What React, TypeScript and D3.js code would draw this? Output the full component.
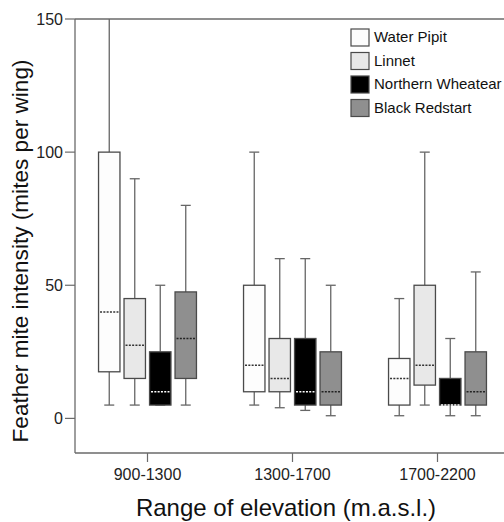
import * as d3 from 'd3';

// elevation ranges on the x axis
const categories = ['900-1300', '1300-1700', '1700-2200'];
const species = ['Water Pipit', 'Linnet', 'Northern Wheatear', 'Black Redstart'];
const fills = ['#fdfdfd', '#e8e8e8', '#000000', '#8f8f8f'];
const medianColors = ['#333', '#333', '#fff', '#222'];

// [whisker low, q1, median, q3, whisker high] per elevation range
const waterPipit = [
  [5, 17.5, 40, 100, 150],
  [5, 10, 20, 50, 100],
  [1, 5, 15, 22.5, 45],
];
const linnet = [
  [5, 15, 27.5, 45, 90],
  [4, 10, 15, 30, 60],
  [5, 12.5, 20, 50, 100],
];
const northernWheatear = [
  [5, 5, 10, 25, 50],
  [3, 5, 10, 30, 60],
  [1, 5, 5, 15, 30],
];
const blackRedstart = [
  [5, 15, 30, 47.5, 80],
  [1, 5, 10, 25, 50],
  [1, 5, 10, 25, 55],
];
const seriesStats = [waterPipit, linnet, northernWheatear, blackRedstart];
const yTicks = [0, 50, 100, 150];

const W = 504;
const H = 522;
const FONT = 'Liberation Sans, Arial, sans-serif';
const AXIS = '#6a6a6a';

export default function App() {
  const x = d3.scaleBand<string>().domain(categories).range([75, 510]);
  const inner = d3
    .scaleBand<string>()
    .domain(species)
    .range([-51, 51])
    .paddingInner(0.16)
    .paddingOuter(0.08);
  const y = d3.scaleLinear().domain([-13, 150]).range([453, 19]);
  const bw = inner.bandwidth();
  const cap = 10;

  return (
    <svg
      width={W}
      height={H}
      style={{ position: 'absolute', left: 0, top: 0, background: '#fff' }}
      fontFamily={FONT}
    >
      {/* frame */}
      <line x1={75} x2={W} y1={y(150)} y2={y(150)} stroke={AXIS} strokeWidth={1.3} />
      <line x1={75} x2={W} y1={453} y2={453} stroke={AXIS} strokeWidth={1.3} />
      <line x1={75} x2={75} y1={y(150)} y2={453} stroke={AXIS} strokeWidth={1.3} />

      {yTicks.map((t) => (
        <g key={t} transform={`translate(0,${y(t)})`}>
          <line x1={65} x2={75} stroke={AXIS} strokeWidth={1.2} />
          <text x={63} dy="0.36em" textAnchor="end" fontSize={16} fill="#222">
            {t}
          </text>
        </g>
      ))}

      {categories.map((c) => {
        const cx = x(c)! + x.bandwidth() / 2;
        return (
          <g key={c}>
            <line x1={cx} x2={cx} y1={453} y2={462} stroke={AXIS} strokeWidth={1.2} />
            <text x={cx} y={480} textAnchor="middle" fontSize={16} fill="#222">
              {c}
            </text>
          </g>
        );
      })}

      {/* boxes */}
      {categories.map((c, ci) => {
        const center = x(c)! + x.bandwidth() / 2;
        return species.map((s, si) => {
          const [lo, q1, med, q3, hi] = seriesStats[si][ci];
          const x0 = center + inner(s)!;
          const mx = x0 + bw / 2;
          return (
            <g key={c + s}>
              <line x1={mx} x2={mx} y1={y(hi)} y2={y(q3)} stroke="#666" strokeWidth={1.3} />
              <line x1={mx} x2={mx} y1={y(q1)} y2={y(lo)} stroke="#666" strokeWidth={1.3} />
              {hi < 150 && (
                <line x1={mx - cap / 2} x2={mx + cap / 2} y1={y(hi)} y2={y(hi)} stroke="#666" strokeWidth={1.3} />
              )}
              <line x1={mx - cap / 2} x2={mx + cap / 2} y1={y(lo)} y2={y(lo)} stroke="#666" strokeWidth={1.3} />
              <rect
                x={x0}
                y={y(q3)}
                width={bw}
                height={y(q1) - y(q3)}
                fill={fills[si]}
                stroke="#4a4a4a"
                strokeWidth={1.3}
              />
              <line
                x1={x0 + 1.5}
                x2={x0 + bw - 1.5}
                y1={y(med)}
                y2={y(med)}
                stroke={medianColors[si]}
                strokeWidth={1.5}
                strokeDasharray="2,1.3"
              />
            </g>
          );
        });
      })}

      {/* legend */}
      {species.map((s, i) => (
        <g key={s} transform={`translate(351,${29 + i * 23.5})`}>
          <rect width={18} height={17} fill={fills[i]} stroke="#4a4a4a" strokeWidth={1.2} />
          <text x={23} y={13} fontSize={15} fill="#111">
            {s}
          </text>
        </g>
      ))}

      <text
        transform={`translate(28,251) rotate(-90)`}
        textAnchor="middle"
        fontSize={22.6}
        fill="#111"
      >
        Feather mite intensity (mites per wing)
      </text>
      <text x={286} y={516} textAnchor="middle" fontSize={24} fill="#111">
        Range of elevation (m.a.s.l.)
      </text>
    </svg>
  );
}
